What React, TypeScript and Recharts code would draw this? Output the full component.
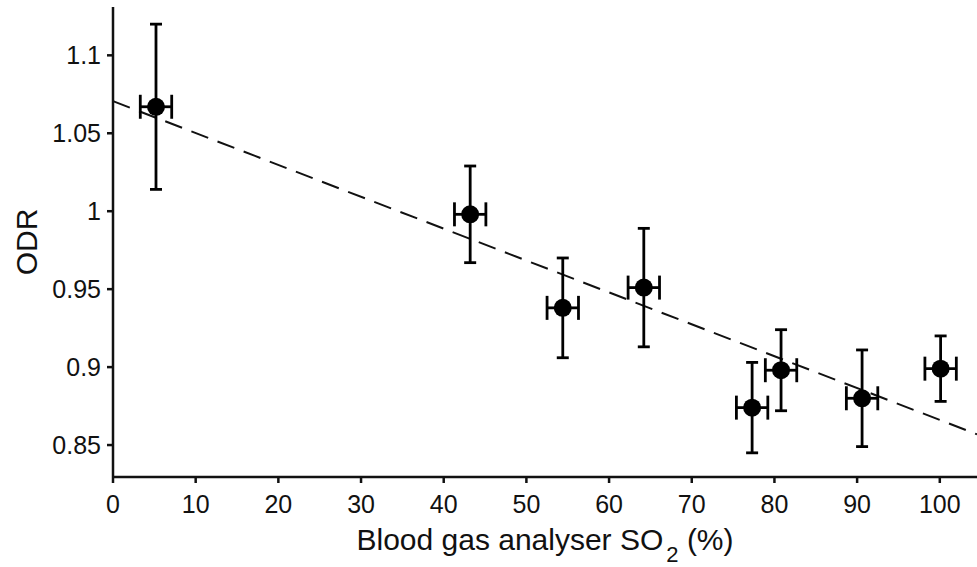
import { ComposedChart, Scatter, XAxis, YAxis, ErrorBar, ReferenceLine } from 'recharts';

// blood gas analyser SO2 (%) and measured ODR, with error bars
const so2 = [5.2, 43.2, 54.4, 64.2, 77.3, 80.8, 90.6, 100.1];
const odr = [1.067, 0.998, 0.938, 0.951, 0.874, 0.898, 0.880, 0.899];
const so2Err = [1.9, 1.9, 1.9, 1.9, 1.9, 1.9, 1.9, 1.9];
const odrErr = [0.053, 0.031, 0.032, 0.038, 0.029, 0.026, 0.031, 0.021];

// linear fit drawn as dashed line
const fitIntercept = 1.0706;
const fitSlope = -0.002045;

const xTicks = [0, 10, 20, 30, 40, 50, 60, 70, 80, 90, 100];
const yTicks = [0.85, 0.9, 0.95, 1, 1.05, 1.1];

const data = so2.map((x, i) => ({ x, y: odr[i], xErr: so2Err[i], yErr: odrErr[i] }));

const X_MAX = 104.5;
const ink = '#111';
const font = "'Liberation Sans', Arial, sans-serif";

const Dot = (props: any) => <circle cx={props.cx} cy={props.cy} r={9} fill="#000" />;

const XLabel = () => (
  <text x={545} y={550} textAnchor="middle" fontSize={30} fill={ink} fontFamily={font}>
    <tspan>Blood gas analyser SO</tspan>
    <tspan dx={3} dy={12} fontSize={22}>2</tspan>
    <tspan dy={-12}> (%)</tspan>
  </text>
);

const YLabel = () => (
  <text x={37} y={242} textAnchor="middle" fontSize={30} fill={ink} fontFamily={font} transform="rotate(-90 37 242)">
    ODR
  </text>
);

export default function App() {
  return (
    <div style={{ position: 'absolute', left: 0, top: 0, background: '#fff' }}>
      <ComposedChart
        width={977}
        height={567}
        data={data}
        margin={{ top: 7, right: 0, left: 0, bottom: 0 }}
        style={{ fontFamily: font }}
      >
        <XAxis
          type="number"
          dataKey="x"
          domain={[0, X_MAX]}
          allowDataOverflow
          ticks={xTicks}
          height={90}
          stroke={ink}
          strokeWidth={2.5}
          tickSize={6}
          tickMargin={12}
          tick={{ fontSize: 25, fill: ink }}
          label={<XLabel />}
        />
        <YAxis
          type="number"
          dataKey="y"
          domain={[0.8295, 1.131]}
          allowDataOverflow
          ticks={yTicks}
          width={113}
          stroke={ink}
          strokeWidth={2.5}
          tickSize={6}
          tickMargin={6}
          tick={{ fontSize: 25, fill: ink }}
          label={<YLabel />}
        />
        <ReferenceLine
          segment={[
            { x: 0, y: fitIntercept },
            { x: X_MAX, y: fitIntercept + fitSlope * X_MAX },
          ]}
          stroke={ink}
          strokeWidth={2}
          strokeDasharray="18 10"
          ifOverflow="visible"
        />
        <Scatter dataKey="y" shape={<Dot />} isAnimationActive={false}>
          <ErrorBar dataKey="yErr" direction="y" width={6} stroke="#000" strokeWidth={2.8} />
          <ErrorBar dataKey="xErr" direction="x" width={12} stroke="#000" strokeWidth={2.8} />
        </Scatter>
      </ComposedChart>
    </div>
  );
}
